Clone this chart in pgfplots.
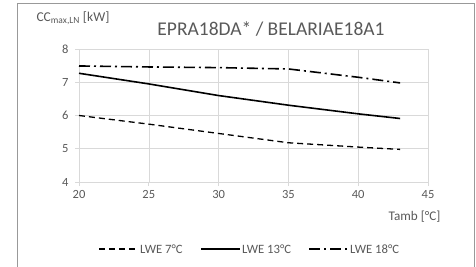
\documentclass[border=0pt]{standalone}
\usepackage{pgfplots}
\pgfplotsset{compat=1.18}
\usepackage{fontspec}
\setmainfont{Carlito}
\definecolor{gridgray}{RGB}{217,217,217}
\definecolor{txtgray}{RGB}{89,89,89}
\begin{document}
\begin{tikzpicture}
\begin{axis}[
  at={(79pt,85pt)}, anchor=south west,
  width=349pt, height=133pt, scale only axis,
  xmin=20, xmax=45, ymin=4, ymax=8,
  xtick={20,25,...,45}, ytick={4,5,...,8},
  grid=major, major grid style={gridgray, line width=0.6pt},
  axis line style={gridgray, line width=0.8pt},
  axis x line*=bottom, axis y line*=left,
  tick style={gridgray, line width=0.8pt},
  tick align=outside, major tick length=4pt,
  ticklabel style={font=\fontsize{12.5}{14}\selectfont, text=txtgray},
  /pgf/number format/assume math mode=true,
  xticklabel style={yshift=-1pt},
  yticklabel style={xshift=-3pt},
  clip=false,
]
\addplot[black, line width=1.3pt, dash pattern=on 6pt off 4pt] coordinates {
 (20,6.00) (25,5.74) (30,5.46) (35,5.18) (40,5.05) (43,4.98)};
\addplot[black, line width=1.6pt] coordinates {
 (20,7.27) (25,6.95) (30,6.60) (35,6.31) (40,6.05) (43,5.91)};
\addplot[black, line width=1.6pt, dash pattern=on 11pt off 4pt on 2pt off 4pt] coordinates {
 (20,7.49) (25,7.46) (30,7.44) (35,7.40) (40,7.15) (43,6.98)};
\end{axis}
\begin{scope}[x=1pt,y=1pt]
\path[use as bounding box] (0,0) rectangle (476,267);
\draw[color=black!40, line width=0.8pt] (17,-2) rectangle (474,264);
\node[text=txtgray, font=\fontsize{19.5}{22}\selectfont] at (271,238) {EPRA18DA* / BELARIAE18A1};
\node[text=txtgray, font=\fontsize{13.5}{15}\selectfont, anchor=west] at (33,249) {CC\textsubscript{max,LN} [kW]};
\node[text=txtgray, font=\fontsize{13.2}{15}\selectfont, anchor=east] at (444,50) {Tamb [°C]};
\begin{scope}[font=\fontsize{12.7}{14}\selectfont]
\draw[black, line width=1.3pt, dash pattern=on 6pt off 4pt] (99,18) -- (138,18);
\node[text=txtgray, anchor=west, inner sep=1pt] at (139,18) {LWE 7°C};
\draw[black, line width=1.6pt] (201,18) -- (240,18);
\node[text=txtgray, anchor=west, inner sep=1pt] at (241,18) {LWE 13°C};
\draw[black, line width=1.6pt, dash pattern=on 11pt off 4pt on 2pt off 4pt] (309,18) -- (348,18);
\node[text=txtgray, anchor=west, inner sep=1pt] at (349,18) {LWE 18°C};
\end{scope}
\end{scope}
\end{tikzpicture}
\end{document}
